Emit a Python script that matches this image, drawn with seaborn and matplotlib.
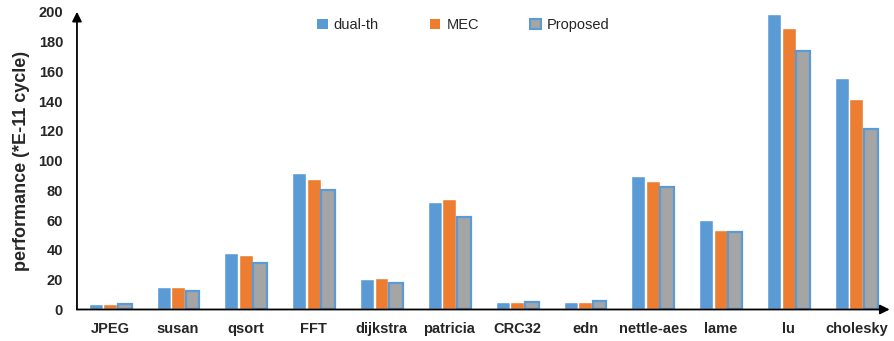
import numpy as np
import pandas as pd
import seaborn as sns
import matplotlib.pyplot as plt

benchmarks = ["JPEG", "susan", "qsort", "FFT", "dijkstra", "patricia",
              "CRC32", "edn", "nettle-aes", "lame", "lu", "cholesky"]
dual_th = [3.5, 15, 38, 91.5, 20.5, 72.5, 5.2, 5.2, 90, 60, 198.5, 155.5]
mec = [3.5, 15, 36.5, 88, 21, 74.5, 5.2, 5.2, 86.5, 53.5, 189, 141.5]
proposed = [4, 12.5, 31, 80.5, 17.5, 62, 4.8, 5.6, 82, 52, 173.5, 121]
series = ["dual-th", "MEC", "Proposed"]
colors = ["#5B9BD5", "#ED7D31", "#A5A5A5"]

df = pd.DataFrame({
    "bench": benchmarks * 3,
    "method": np.repeat(series, len(benchmarks)),
    "value": dual_th + mec + proposed,
})

sns.set_style("white")
plt.rcParams["font.family"] = ["Liberation Sans", "DejaVu Sans"]

fig = plt.figure(figsize=(8.95, 3.41), dpi=100)
ax = fig.add_axes([0.086, 0.0924, 0.908, 0.873])

sns.barplot(data=df, x="bench", y="value", hue="method", palette=colors,
            width=0.64, gap=0.04, saturation=1, ax=ax, legend=False)

# gray bars get the blue outline
for bar in ax.containers[2]:
    bar.set_edgecolor("#5B9BD5")
    bar.set_linewidth(1.6)

ax.set_xlim(-0.49, 11.49)
ax.set_ylim(0, 200)
ax.set_yticks(range(0, 201, 20))
ax.set_xlabel("")
ax.set_ylabel("performance (*E-11 cycle)", fontsize=13, fontweight="bold", labelpad=6)
ax.tick_params(axis="both", length=0, labelsize=10.5)
ax.tick_params(axis="x", pad=9)
ax.tick_params(axis="y", pad=10)
for lab in ax.get_xticklabels() + ax.get_yticklabels():
    lab.set_fontweight("bold")

# axes drawn as arrows instead of spines
for s in ax.spines.values():
    s.set_visible(False)
arrow = dict(arrowstyle="-|>", color="black", lw=1.3, mutation_scale=14, shrinkA=0, shrinkB=0)
ax.annotate("", xy=(1.0, 0), xytext=(0, 0), xycoords="axes fraction",
            arrowprops=arrow, annotation_clip=False, zorder=10)
ax.annotate("", xy=(0, 1.0), xytext=(0, 0), xycoords="axes fraction",
            arrowprops=arrow, annotation_clip=False, zorder=10)

handles = [plt.Rectangle((0, 0), 1, 1, fc=colors[0], ec="none"),
           plt.Rectangle((0, 0), 1, 1, fc=colors[1], ec="none"),
           plt.Rectangle((0, 0), 1, 1, fc=colors[2], ec="#5B9BD5", lw=1.5)]
fig.legend(handles, series, loc="center", bbox_to_anchor=(463 / 895, 1 - 25 / 341),
           ncol=3, frameon=False, fontsize=10.5, handlelength=0.75, handleheight=0.75,
           handletextpad=0.4, columnspacing=3.5)

fig.savefig("out.png", dpi=100)
